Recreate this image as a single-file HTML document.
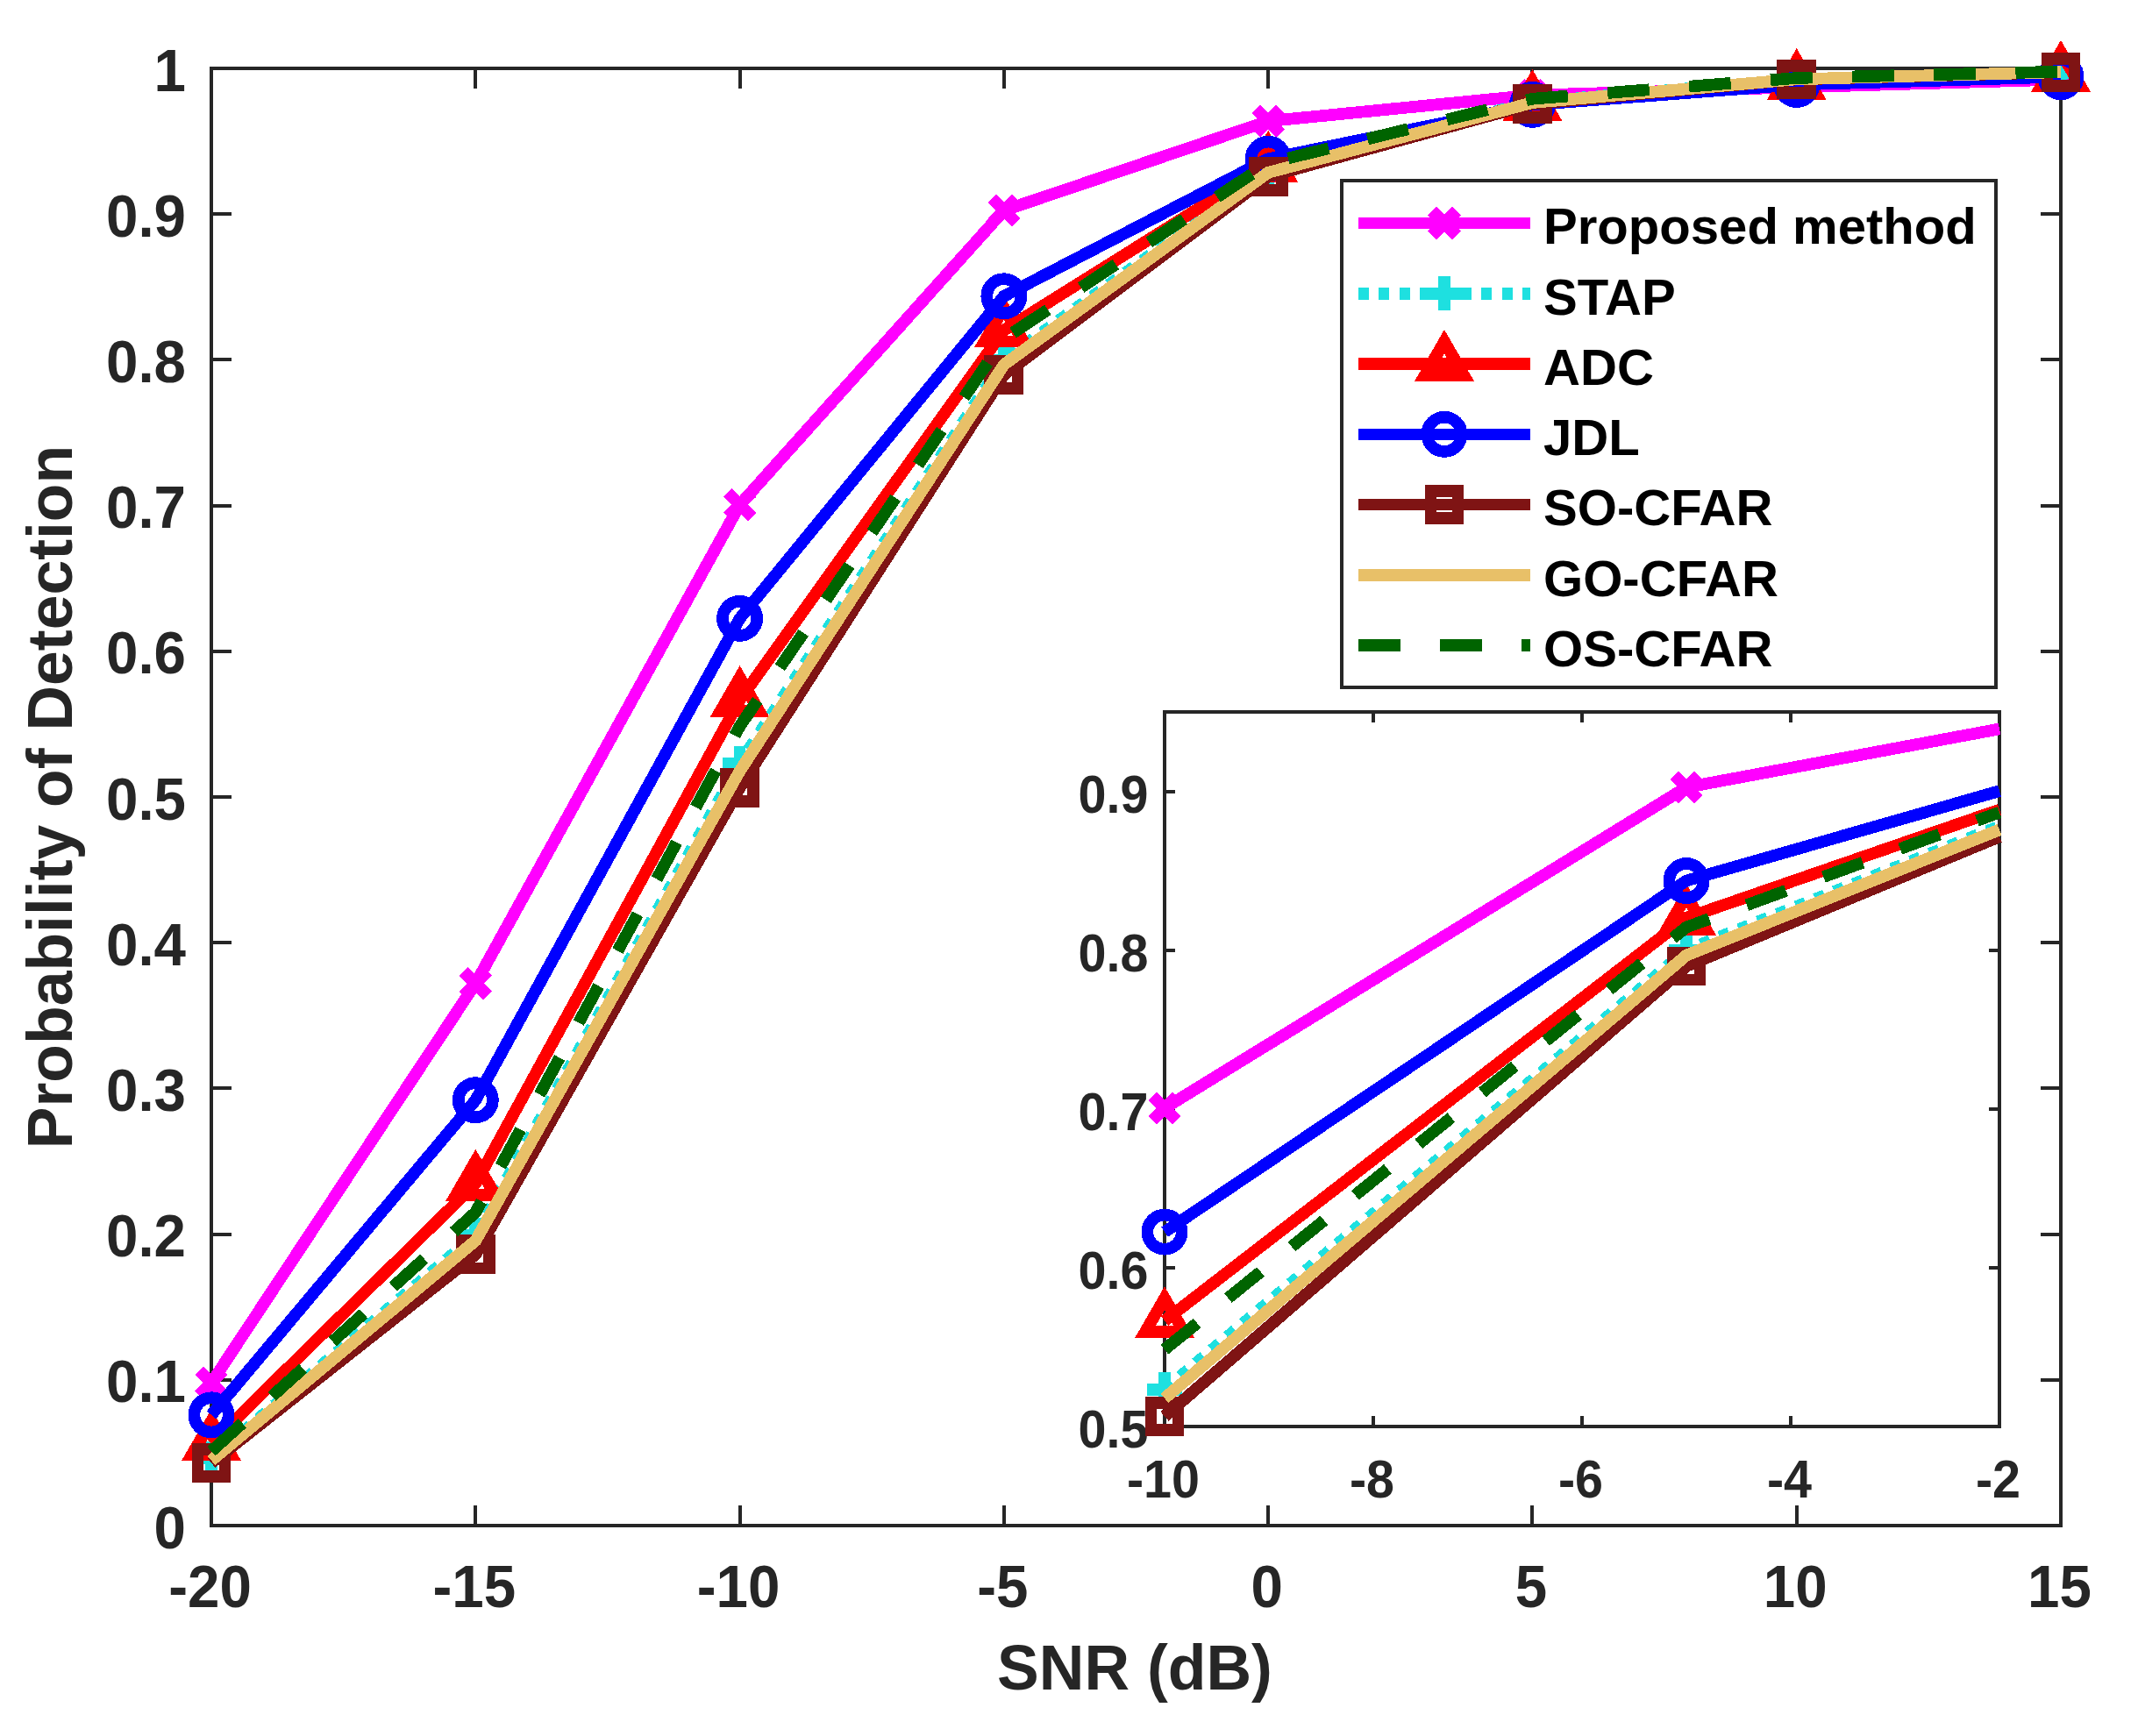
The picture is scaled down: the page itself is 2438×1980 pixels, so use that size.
<!DOCTYPE html>
<html lang="en"><head><meta charset="utf-8"><title>Probability of Detection vs SNR</title>
<style>html,body{margin:0;padding:0;background:#fff}svg{display:block}text{font-family:"Liberation Sans",sans-serif;font-weight:bold}</style>
</head><body>
<svg width="2438" height="1980" viewBox="0 0 2438 1980">
<rect width="2438" height="1980" fill="#fff"/>
<g stroke="#262626" stroke-width="4" fill="none" shape-rendering="crispEdges">
<rect x="241.0" y="78.0" width="2109.0" height="1662.0"/>
<path d="M241 1740.0v-23M241 78.0v23M542.29 1740.0v-23M542.29 78.0v23M843.57 1740.0v-23M843.57 78.0v23M1144.86 1740.0v-23M1144.86 78.0v23M1446.14 1740.0v-23M1446.14 78.0v23M1747.43 1740.0v-23M1747.43 78.0v23M2048.71 1740.0v-23M2048.71 78.0v23M2350 1740.0v-23M2350 78.0v23M241.0 1740h23M2350.0 1740h-23M241.0 1573.8h23M2350.0 1573.8h-23M241.0 1407.6h23M2350.0 1407.6h-23M241.0 1241.4h23M2350.0 1241.4h-23M241.0 1075.2h23M2350.0 1075.2h-23M241.0 909h23M2350.0 909h-23M241.0 742.8h23M2350.0 742.8h-23M241.0 576.6h23M2350.0 576.6h-23M241.0 410.4h23M2350.0 410.4h-23M241.0 244.2h23M2350.0 244.2h-23M241.0 78h23M2350.0 78h-23"/>
</g>
<g fill="#262626" font-size="65.5">
<text transform="translate(239.5 1832.5) scale(1 1.035)" text-anchor="middle">-20</text>
<text transform="translate(540.79 1832.5) scale(1 1.035)" text-anchor="middle">-15</text>
<text transform="translate(842.07 1832.5) scale(1 1.035)" text-anchor="middle">-10</text>
<text transform="translate(1143.36 1832.5) scale(1 1.035)" text-anchor="middle">-5</text>
<text transform="translate(1444.64 1832.5) scale(1 1.035)" text-anchor="middle">0</text>
<text transform="translate(1745.93 1832.5) scale(1 1.035)" text-anchor="middle">5</text>
<text transform="translate(2047.21 1832.5) scale(1 1.035)" text-anchor="middle">10</text>
<text transform="translate(2348.5 1832.5) scale(1 1.035)" text-anchor="middle">15</text>
<text transform="translate(212 1765.5) scale(1 1.035)" text-anchor="end">0</text>
<text transform="translate(212 1599.3) scale(1 1.035)" text-anchor="end">0.1</text>
<text transform="translate(212 1433.1) scale(1 1.035)" text-anchor="end">0.2</text>
<text transform="translate(212 1266.9) scale(1 1.035)" text-anchor="end">0.3</text>
<text transform="translate(212 1100.7) scale(1 1.035)" text-anchor="end">0.4</text>
<text transform="translate(212 934.5) scale(1 1.035)" text-anchor="end">0.5</text>
<text transform="translate(212 768.3) scale(1 1.035)" text-anchor="end">0.6</text>
<text transform="translate(212 602.1) scale(1 1.035)" text-anchor="end">0.7</text>
<text transform="translate(212 435.9) scale(1 1.035)" text-anchor="end">0.8</text>
<text transform="translate(212 269.7) scale(1 1.035)" text-anchor="end">0.9</text>
<text transform="translate(212 103.5) scale(1 1.035)" text-anchor="end">1</text>
</g>
<text x="1294" y="1927" text-anchor="middle" font-size="71.5" fill="#262626">SNR (dB)</text>
<text transform="translate(81.5 909) rotate(-90)" text-anchor="middle" font-size="71.5" fill="#262626">Probability of Detection</text>
<g shape-rendering="crispEdges" fill="none" stroke-linejoin="miter">
<polyline points="241,1577.29 542.29,1121.74 843.57,575.77 1144.86,240.05 1446.14,138.16 1747.43,108.58 2048.71,99.44 2350,90.63" stroke="#ff00ff" stroke-width="13.7"/>
<path d="M227.1 1563.39L254.9 1591.19M227.1 1591.19L254.9 1563.39" stroke="#ff00ff" stroke-width="13.7" fill="none"/>
<path d="M528.39 1107.84L556.19 1135.64M528.39 1135.64L556.19 1107.84" stroke="#ff00ff" stroke-width="13.7" fill="none"/>
<path d="M829.67 561.87L857.47 589.67M829.67 589.67L857.47 561.87" stroke="#ff00ff" stroke-width="13.7" fill="none"/>
<path d="M1130.96 226.15L1158.76 253.95M1130.96 253.95L1158.76 226.15" stroke="#ff00ff" stroke-width="13.7" fill="none"/>
<path d="M1432.24 124.26L1460.04 152.06M1432.24 152.06L1460.04 124.26" stroke="#ff00ff" stroke-width="13.7" fill="none"/>
<path d="M1733.53 94.68L1761.33 122.48M1733.53 122.48L1761.33 94.68" stroke="#ff00ff" stroke-width="13.7" fill="none"/>
<path d="M2034.81 85.54L2062.61 113.34M2034.81 113.34L2062.61 85.54" stroke="#ff00ff" stroke-width="13.7" fill="none"/>
<path d="M2336.1 76.73L2363.9 104.53M2336.1 104.53L2363.9 76.73" stroke="#ff00ff" stroke-width="13.7" fill="none"/>
<polyline points="241,1663.55 542.29,1408.43 843.57,870.44 1144.86,410.4 1446.14,194.34 1747.43,116.23 2048.71,90.46 2350,82.99" stroke="#1ee0e0" stroke-width="13.7" stroke-dasharray="11.7 11.7"/>
<path d="M221.4 1663.55H260.6M241 1643.95V1683.15" stroke="#1ee0e0" stroke-width="13.7" fill="none"/>
<path d="M522.69 1408.43H561.89M542.29 1388.83V1428.03" stroke="#1ee0e0" stroke-width="13.7" fill="none"/>
<path d="M823.97 870.44H863.17M843.57 850.84V890.04" stroke="#1ee0e0" stroke-width="13.7" fill="none"/>
<path d="M1125.26 410.4H1164.46M1144.86 390.8V430" stroke="#1ee0e0" stroke-width="13.7" fill="none"/>
<path d="M1426.54 194.34H1465.74M1446.14 174.74V213.94" stroke="#1ee0e0" stroke-width="13.7" fill="none"/>
<path d="M1727.83 116.23H1767.03M1747.43 96.63V135.83" stroke="#1ee0e0" stroke-width="13.7" fill="none"/>
<path d="M2029.11 90.46H2068.31M2048.71 70.86V110.06" stroke="#1ee0e0" stroke-width="13.7" fill="none"/>
<path d="M2330.4 82.99H2369.6M2350 63.39V102.59" stroke="#1ee0e0" stroke-width="13.7" fill="none"/>
<polyline points="241,1646.26 542.29,1349.93 843.57,798.31 1144.86,376.66 1446.14,188.02 1747.43,118.22 2048.71,94.29 2350,84.98" stroke="#ff0000" stroke-width="13.7"/>
<path d="M241 1620.76L263.08 1659.01L218.92 1659.01Z" stroke="#ff0000" stroke-width="13.7" fill="none" stroke-miterlimit="10"/>
<path d="M542.29 1324.43L564.37 1362.68L520.2 1362.68Z" stroke="#ff0000" stroke-width="13.7" fill="none" stroke-miterlimit="10"/>
<path d="M843.57 772.81L865.66 811.06L821.49 811.06Z" stroke="#ff0000" stroke-width="13.7" fill="none" stroke-miterlimit="10"/>
<path d="M1144.86 351.16L1166.94 389.41L1122.77 389.41Z" stroke="#ff0000" stroke-width="13.7" fill="none" stroke-miterlimit="10"/>
<path d="M1446.14 162.52L1468.23 200.77L1424.06 200.77Z" stroke="#ff0000" stroke-width="13.7" fill="none" stroke-miterlimit="10"/>
<path d="M1747.43 92.72L1769.51 130.97L1725.34 130.97Z" stroke="#ff0000" stroke-width="13.7" fill="none" stroke-miterlimit="10"/>
<path d="M2048.71 68.79L2070.8 107.04L2026.63 107.04Z" stroke="#ff0000" stroke-width="13.7" fill="none" stroke-miterlimit="10"/>
<path d="M2350 59.48L2372.08 97.73L2327.92 97.73Z" stroke="#ff0000" stroke-width="13.7" fill="none" stroke-miterlimit="10"/>
<polyline points="241,1613.85 542.29,1254.7 843.57,705.4 1144.86,337.77 1446.14,181.21 1747.43,119.38 2048.71,96.45 2350,87.64" stroke="#0000ff" stroke-width="13.7"/>
<circle cx="241" cy="1613.85" r="19.6" stroke="#0000ff" stroke-width="13.7" fill="none"/>
<circle cx="542.29" cy="1254.7" r="19.6" stroke="#0000ff" stroke-width="13.7" fill="none"/>
<circle cx="843.57" cy="705.4" r="19.6" stroke="#0000ff" stroke-width="13.7" fill="none"/>
<circle cx="1144.86" cy="337.77" r="19.6" stroke="#0000ff" stroke-width="13.7" fill="none"/>
<circle cx="1446.14" cy="181.21" r="19.6" stroke="#0000ff" stroke-width="13.7" fill="none"/>
<circle cx="1747.43" cy="119.38" r="19.6" stroke="#0000ff" stroke-width="13.7" fill="none"/>
<circle cx="2048.71" cy="96.45" r="19.6" stroke="#0000ff" stroke-width="13.7" fill="none"/>
<circle cx="2350" cy="87.64" r="19.6" stroke="#0000ff" stroke-width="13.7" fill="none"/>
<polyline points="241,1668.53 542.29,1430.87 843.57,898.36 1144.86,427.19 1446.14,201.32 1747.43,118.55 2048.71,90.46 2350,82.32" stroke="#7f1414" stroke-width="13.7"/>
<rect x="225.4" y="1652.93" width="31.2" height="31.2" stroke="#7f1414" stroke-width="13.7" fill="none"/>
<rect x="526.69" y="1415.27" width="31.2" height="31.2" stroke="#7f1414" stroke-width="13.7" fill="none"/>
<rect x="827.97" y="882.76" width="31.2" height="31.2" stroke="#7f1414" stroke-width="13.7" fill="none"/>
<rect x="1129.26" y="411.59" width="31.2" height="31.2" stroke="#7f1414" stroke-width="13.7" fill="none"/>
<rect x="1430.54" y="185.72" width="31.2" height="31.2" stroke="#7f1414" stroke-width="13.7" fill="none"/>
<rect x="1731.83" y="102.95" width="31.2" height="31.2" stroke="#7f1414" stroke-width="13.7" fill="none"/>
<rect x="2033.11" y="74.86" width="31.2" height="31.2" stroke="#7f1414" stroke-width="13.7" fill="none"/>
<rect x="2334.4" y="66.72" width="31.2" height="31.2" stroke="#7f1414" stroke-width="13.7" fill="none"/>
<polyline points="241,1665.71 542.29,1415.08 843.57,879.42 1144.86,415.88 1446.14,196.83 1747.43,117.06 2048.71,90.3 2350,82.15" stroke="#e8c068" stroke-width="13.7"/>
<polyline points="241,1655.24 542.29,1382.67 843.57,828.39 1144.86,386.47 1446.14,186.03 1747.43,112.74 2048.71,88.97 2350,81.66" stroke="#006400" stroke-width="13.7" stroke-dasharray="47.7 45.5"/>
</g>
<rect x="1530.0" y="206.0" width="746.0" height="578.0" fill="#fff" stroke="#262626" stroke-width="4" shape-rendering="crispEdges"/>
<g shape-rendering="crispEdges" fill="none">
<path d="M1549 254.6H1745" stroke="#ff00ff" stroke-width="13.7"/>
<path d="M1633.1 240.7L1660.9 268.5M1633.1 268.5L1660.9 240.7" stroke="#ff00ff" stroke-width="13.7" fill="none"/>
<path d="M1549 334.85H1745" stroke="#1ee0e0" stroke-width="13.7" stroke-dasharray="11.7 11.7"/>
<path d="M1627.4 334.85H1666.6M1647 315.25V354.45" stroke="#1ee0e0" stroke-width="13.7" fill="none"/>
<path d="M1549 415.1H1745" stroke="#ff0000" stroke-width="13.7"/>
<path d="M1647 389.6L1669.08 427.85L1624.92 427.85Z" stroke="#ff0000" stroke-width="13.7" fill="none" stroke-miterlimit="10"/>
<path d="M1549 495.35H1745" stroke="#0000ff" stroke-width="13.7"/>
<circle cx="1647" cy="495.35" r="19.6" stroke="#0000ff" stroke-width="13.7" fill="none"/>
<path d="M1549 575.6H1745" stroke="#7f1414" stroke-width="13.7"/>
<rect x="1631.4" y="560" width="31.2" height="31.2" stroke="#7f1414" stroke-width="13.7" fill="none"/>
<path d="M1549 655.85H1745" stroke="#e8c068" stroke-width="13.7"/>
<path d="M1549 736.1H1745" stroke="#006400" stroke-width="13.7" stroke-dasharray="47.7 45.5"/>
</g>
<g fill="#000" font-size="58.1">
<text x="1760" y="278.3">Proposed method</text>
<text x="1760" y="358.55">STAP</text>
<text x="1760" y="438.8">ADC</text>
<text x="1760" y="519.05">JDL</text>
<text x="1760" y="599.3">SO-CFAR</text>
<text x="1760" y="679.55">GO-CFAR</text>
<text x="1760" y="759.8">OS-CFAR</text>
</g>
<g stroke="#262626" stroke-width="4" fill="none" shape-rendering="crispEdges">
<rect x="1328.0" y="812.0" width="952.0" height="815.0" fill="#fff"/>
<path d="M1328 1627.0v-12M1328 812.0v12M1566 1627.0v-12M1566 812.0v12M1804 1627.0v-12M1804 812.0v12M2042 1627.0v-12M2042 812.0v12M2280 1627.0v-12M2280 812.0v12M1328.0 1627h12M2280.0 1627h-12M1328.0 1445.89h12M2280.0 1445.89h-12M1328.0 1264.78h12M2280.0 1264.78h-12M1328.0 1083.67h12M2280.0 1083.67h-12M1328.0 902.56h12M2280.0 902.56h-12"/>
</g>
<g fill="#262626" font-size="57.5">
<text transform="translate(1326.5 1708) scale(1 1.065)" text-anchor="middle">-10</text>
<text transform="translate(1564.5 1708) scale(1 1.065)" text-anchor="middle">-8</text>
<text transform="translate(1802.5 1708) scale(1 1.065)" text-anchor="middle">-6</text>
<text transform="translate(2040.5 1708) scale(1 1.065)" text-anchor="middle">-4</text>
<text transform="translate(2278.5 1708) scale(1 1.065)" text-anchor="middle">-2</text>
<text transform="translate(1309.5 1651.3) scale(1 1.065)" text-anchor="end">0.5</text>
<text transform="translate(1309.5 1470.19) scale(1 1.065)" text-anchor="end">0.6</text>
<text transform="translate(1309.5 1289.08) scale(1 1.065)" text-anchor="end">0.7</text>
<text transform="translate(1309.5 1107.97) scale(1 1.065)" text-anchor="end">0.8</text>
<text transform="translate(1309.5 926.86) scale(1 1.065)" text-anchor="end">0.9</text>
</g>
<g shape-rendering="crispEdges" fill="none" stroke-linejoin="miter">
<polyline points="1328,1263.87 1923,898.03 2280,831.42" stroke="#ff00ff" stroke-width="13.7"/>
<path d="M1314.1 1249.97L1341.9 1277.77M1314.1 1277.77L1341.9 1249.97" stroke="#ff00ff" stroke-width="13.7" fill="none"/>
<path d="M1909.1 884.13L1936.9 911.93M1909.1 911.93L1936.9 884.13" stroke="#ff00ff" stroke-width="13.7" fill="none"/>
<polyline points="1328,1584.98 1923,1083.67 2280,942.4" stroke="#1ee0e0" stroke-width="13.7" stroke-dasharray="11.7 11.7"/>
<path d="M1308.4 1584.98H1347.6M1328 1565.38V1604.58" stroke="#1ee0e0" stroke-width="13.7" fill="none"/>
<path d="M1903.4 1083.67H1942.6M1923 1064.07V1103.27" stroke="#1ee0e0" stroke-width="13.7" fill="none"/>
<polyline points="1328,1506.38 1923,1046.9 2280,923.56" stroke="#ff0000" stroke-width="13.7"/>
<path d="M1328 1480.88L1350.08 1519.13L1305.92 1519.13Z" stroke="#ff0000" stroke-width="13.7" fill="none" stroke-miterlimit="10"/>
<path d="M1923 1021.4L1945.08 1059.65L1900.92 1059.65Z" stroke="#ff0000" stroke-width="13.7" fill="none" stroke-miterlimit="10"/>
<polyline points="1328,1405.14 1923,1004.52 2280,902.16" stroke="#0000ff" stroke-width="13.7"/>
<circle cx="1328" cy="1405.14" r="19.6" stroke="#0000ff" stroke-width="13.7" fill="none"/>
<circle cx="1923" cy="1004.52" r="19.6" stroke="#0000ff" stroke-width="13.7" fill="none"/>
<polyline points="1328,1615.41 1923,1101.96 2280,954.28" stroke="#7f1414" stroke-width="13.7"/>
<rect x="1312.4" y="1599.81" width="31.2" height="31.2" stroke="#7f1414" stroke-width="13.7" fill="none"/>
<rect x="1907.4" y="1086.36" width="31.2" height="31.2" stroke="#7f1414" stroke-width="13.7" fill="none"/>
<polyline points="1328,1594.76 1923,1089.64 2280,946.42" stroke="#e8c068" stroke-width="13.7"/>
<polyline points="1328,1539.16 1923,1057.59 2280,926.53" stroke="#006400" stroke-width="13.7" stroke-dasharray="47.7 45.5"/>
</g>
</svg>
</body></html>
